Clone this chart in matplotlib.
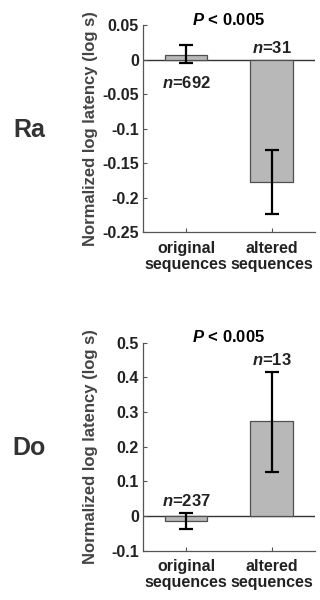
import numpy as np
import matplotlib
matplotlib.use("Agg")
import matplotlib.pyplot as plt


# ----------------------------------------------------
# Data
# ----------------------------------------------------

categories = ["original\nsequences", "altered\nsequences"]

ra_values = [0.0075, -0.177]
ra_err_low = [-0.0045, -0.224]
ra_err_high = [0.021, -0.131]
ra_counts = [692, 31]

do_values = [-0.015, 0.273]
do_err_low = [-0.037, 0.127]
do_err_high = [0.008, 0.416]
do_counts = [237, 13]

ra_ticks = [-0.25, -0.2, -0.15, -0.1, -0.05, 0, 0.05]
ra_ticklabels = ["-0.25", "-0.2", "-0.15", "-0.1", "-0.05", "0", "0.05"]
do_ticks = [-0.1, 0, 0.1, 0.2, 0.3, 0.4, 0.5]
do_ticklabels = ["-0.1", "0", "0.1", "0.2", "0.3", "0.4", "0.5"]

p_text = r"$P$ < 0.005"

FONT = "Liberation Sans"

plt.rcParams["font.family"] = [FONT, "DejaVu Sans"]
plt.rcParams["mathtext.fontset"] = "custom"
plt.rcParams["mathtext.it"] = FONT + ":bold:italic"
plt.rcParams["mathtext.rm"] = FONT + ":bold"


def draw_panel(ax, values, err_low, err_high, counts, ticks, ticklabels,
               ylim, label_below):
    x = np.arange(1, len(values) + 1)
    values = np.array(values)
    lo = values - np.array(err_low)
    hi = np.array(err_high) - values

    ax.bar(x, values, width=0.5, color="#b8b8b8",
           edgecolor="#505050", linewidth=0.9, zorder=2)
    ax.errorbar(x, values, yerr=[lo, hi], fmt="none", ecolor="black",
                elinewidth=1.6, capsize=5, capthick=1.6, zorder=3)
    ax.axhline(0, color="#333333", linewidth=1.0, zorder=1)

    ax.set_xlim(0.5, 2.5)
    ax.set_ylim(*ylim)
    ax.set_yticks(ticks)
    ax.set_yticklabels(ticklabels)
    ax.set_xticks(x)
    ax.set_xticklabels(categories, linespacing=1.1)

    for s in ["top", "right"]:
        ax.spines[s].set_visible(False)
    for s in ["left", "bottom"]:
        ax.spines[s].set_color("#555555")
        ax.spines[s].set_linewidth(0.9)

    ax.tick_params(direction="in", length=3, width=0.8, color="#555555",
                   labelsize=11.5, labelcolor="#222222", pad=3)
    ax.tick_params(axis="x", pad=6)
    for lab in ax.get_xticklabels() + ax.get_yticklabels():
        lab.set_fontweight("bold")

    ax.set_ylabel("Normalized log latency (log s)", fontsize=12,
                  fontweight="bold", color="#444444")
    ax.yaxis.set_label_coords(-0.265, 0.5)

    # n labels
    for i in range(len(values)):
        txt = r"$n$=%d" % counts[i]
        if label_below[i]:
            ax.annotate(txt, (x[i], err_low[i]), xytext=(0, -18.5),
                        textcoords="offset points", ha="center",
                        va="baseline", fontsize=12, fontweight="bold",
                        color="#222222")
        else:
            top = max(0, err_high[i])
            ax.annotate(txt, (x[i], top), xytext=(0, 5),
                        textcoords="offset points", ha="center",
                        va="baseline", fontsize=12, fontweight="bold",
                        color="#222222")

    ax.annotate(p_text, (0.5, 1.0), xycoords="axes fraction",
                xytext=(0, 0.5), textcoords="offset points", ha="center",
                va="baseline", fontsize=12, fontweight="bold", color="black")


fig = plt.figure(figsize=(3.2, 6.0), dpi=100)

ax1 = fig.add_axes([0.447, 0.613, 0.537, 0.345])
draw_panel(ax1, ra_values, ra_err_low, ra_err_high, ra_counts,
           ra_ticks, ra_ticklabels, (-0.25, 0.05), [True, False])

ax2 = fig.add_axes([0.447, 0.082, 0.537, 0.347])
draw_panel(ax2, do_values, do_err_low, do_err_high, do_counts,
           do_ticks, do_ticklabels, (-0.1, 0.5), [False, False])

fig.text(0.092, 1 - 130 / 600, "Ra", fontsize=18, fontweight="bold",
         color="#333333", ha="center", va="center")
fig.text(0.092, 1 - 448 / 600, "Do", fontsize=18, fontweight="bold",
         color="#333333", ha="center", va="center")

fig.savefig("out.png", dpi=100)
plt.close(fig)
